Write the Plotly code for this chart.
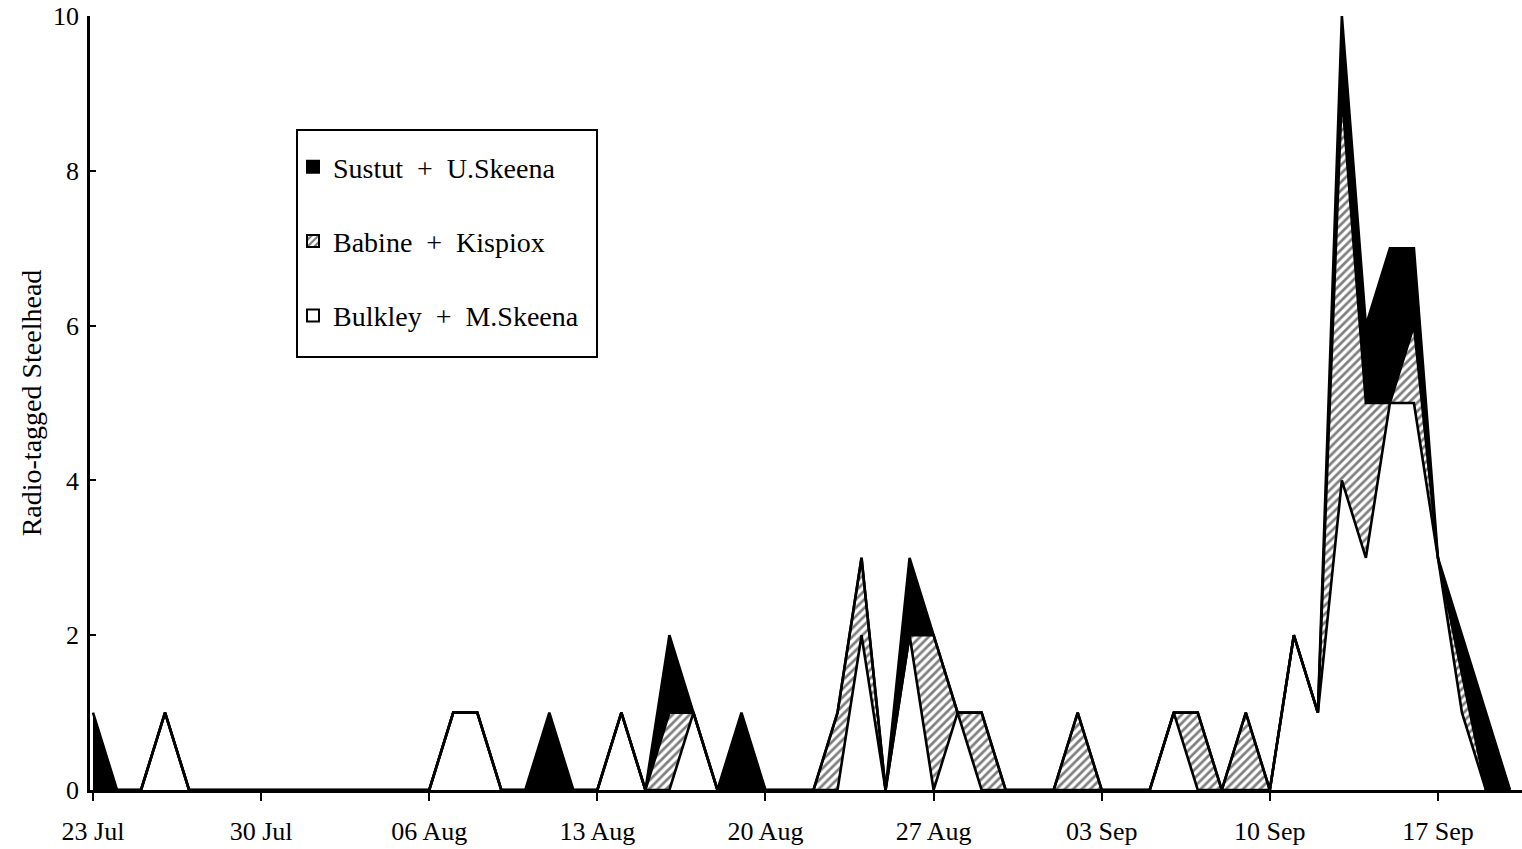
import plotly.graph_objects as go
import pandas as pd

# Daily dates, 23 Jul .. 20 Sep
dates = pd.date_range("1997-07-23", periods=60, freq="D")

# Bulkley + M.Skeena (white, bottom layer)
bulkley = [0, 0, 0, 1, 0, 0, 0, 0, 0, 0,
           0, 0, 0, 0, 0, 1, 1, 0, 0, 0,
           0, 0, 1, 0, 0, 1, 0, 0, 0, 0,
           0, 0, 2, 0, 2, 0, 1, 0, 0, 0,
           0, 0, 0, 0, 0, 1, 0, 0, 0, 0,
           2, 1, 4, 3, 5, 5, 3, 1, 0, 0]

# Babine + Kispiox (hatched, middle layer)
babine = [0, 0, 0, 0, 0, 0, 0, 0, 0, 0,
          0, 0, 0, 0, 0, 0, 0, 0, 0, 0,
          0, 0, 0, 0, 1, 0, 0, 0, 0, 0,
          0, 1, 1, 0, 0, 2, 0, 1, 0, 0,
          0, 1, 0, 0, 0, 0, 1, 0, 1, 0,
          0, 0, 5, 2, 0, 1, 0, 0.5, 0, 0]

# Sustut + U.Skeena (black, top layer)
sustut = [1, 0, 0, 0, 0, 0, 0, 0, 0, 0,
          0, 0, 0, 0, 0, 0, 0, 0, 0, 1,
          0, 0, 0, 0, 1, 0, 0, 1, 0, 0,
          0, 0, 0, 0, 1, 0, 0, 0, 0, 0,
          0, 0, 0, 0, 0, 0, 0, 0, 0, 0,
          0, 0, 1, 1, 2, 1, 0, 0.5, 1, 0]

series_names = ["Sustut&nbsp; +&nbsp; U.Skeena",
                "Babine&nbsp; +&nbsp; Kispiox",
                "Bulkley&nbsp; +&nbsp; M.Skeena"]

tick_dates = dates[::7]
tick_labels = [d.strftime("%d %b") for d in tick_dates]
y_ticks = [0, 2, 4, 6, 8, 10]

FONT = "Liberation Serif, Times New Roman, serif"
LW = 2.6
hatch = dict(shape="/", fgcolor="black", bgcolor="white", size=6, solidity=0.45)

fig = go.Figure()

fig.add_trace(go.Scatter(x=dates, y=bulkley, stackgroup="one", mode="lines",
                         line=dict(color="black", width=LW), fillcolor="white",
                         showlegend=False, hoverinfo="skip"))
fig.add_trace(go.Scatter(x=dates, y=babine, stackgroup="one", mode="lines",
                         line=dict(color="black", width=LW), fillcolor="white",
                         fillpattern=hatch, showlegend=False, hoverinfo="skip"))
fig.add_trace(go.Scatter(x=dates, y=sustut, stackgroup="one", mode="lines",
                         line=dict(color="black", width=LW), fillcolor="black",
                         showlegend=False, hoverinfo="skip"))

# legend entries (square swatches)
legend_styles = [
    dict(color="black", line=dict(color="black", width=2)),
    dict(color="white", line=dict(color="black", width=2), pattern=hatch),
    dict(color="white", line=dict(color="black", width=2)),
]
for i, (nm, mk) in enumerate(zip(series_names, legend_styles)):
    fig.add_trace(go.Bar(x=[None], y=[None], name=nm, marker=mk,
                         legendgroup=f"g{i}", showlegend=True))

x0 = dates[0] - pd.Timedelta(hours=3)
x1 = dates[0] + pd.Timedelta(hours=int(59.5 * 24))

# legend frame (paper coords)
fig.add_shape(type="rect", xref="paper", yref="paper",
              x0=(297 - 90) / 1432, x1=(597 - 90) / 1432,
              y0=(790 - 357) / 774, y1=(790 - 130) / 774,
              line=dict(color="black", width=2), fillcolor="white", layer="above")

fig.update_layout(
    width=1522, height=849,
    margin=dict(l=90, r=0, t=16, b=59),
    paper_bgcolor="white", plot_bgcolor="white",
    font=dict(family=FONT, color="black", size=26),
    legend=dict(x=(293 - 90) / 1432, y=(790 - 142) / 774, xanchor="left", yanchor="top",
                bgcolor="rgba(0,0,0,0)", borderwidth=0,
                font=dict(family=FONT, size=28, color="black"),
                tracegroupgap=35, traceorder="grouped"),
    xaxis=dict(type="date", range=[x0, x1], tickvals=list(tick_dates), ticktext=tick_labels,
               ticks="outside", ticklen=8, tickwidth=2, tickcolor="black",
               showline=True, linecolor="black", linewidth=2.5, showgrid=False, zeroline=False,
               ticklabelstandoff=8,
               tickfont=dict(family=FONT, size=26, color="black")),
    yaxis=dict(range=[0, 10], tickvals=y_ticks, ticks="inside", ticklen=6, tickwidth=2,
               tickcolor="black", showline=True, linecolor="black", linewidth=2.5,
               showgrid=False, zeroline=False,
               tickfont=dict(family=FONT, size=26, color="black"),
               ticklabelstandoff=3,
               title=dict(text="Radio-tagged Steelhead", standoff=4,
                          font=dict(family=FONT, size=28, color="black"))),
)

fig.write_html("out.html")
